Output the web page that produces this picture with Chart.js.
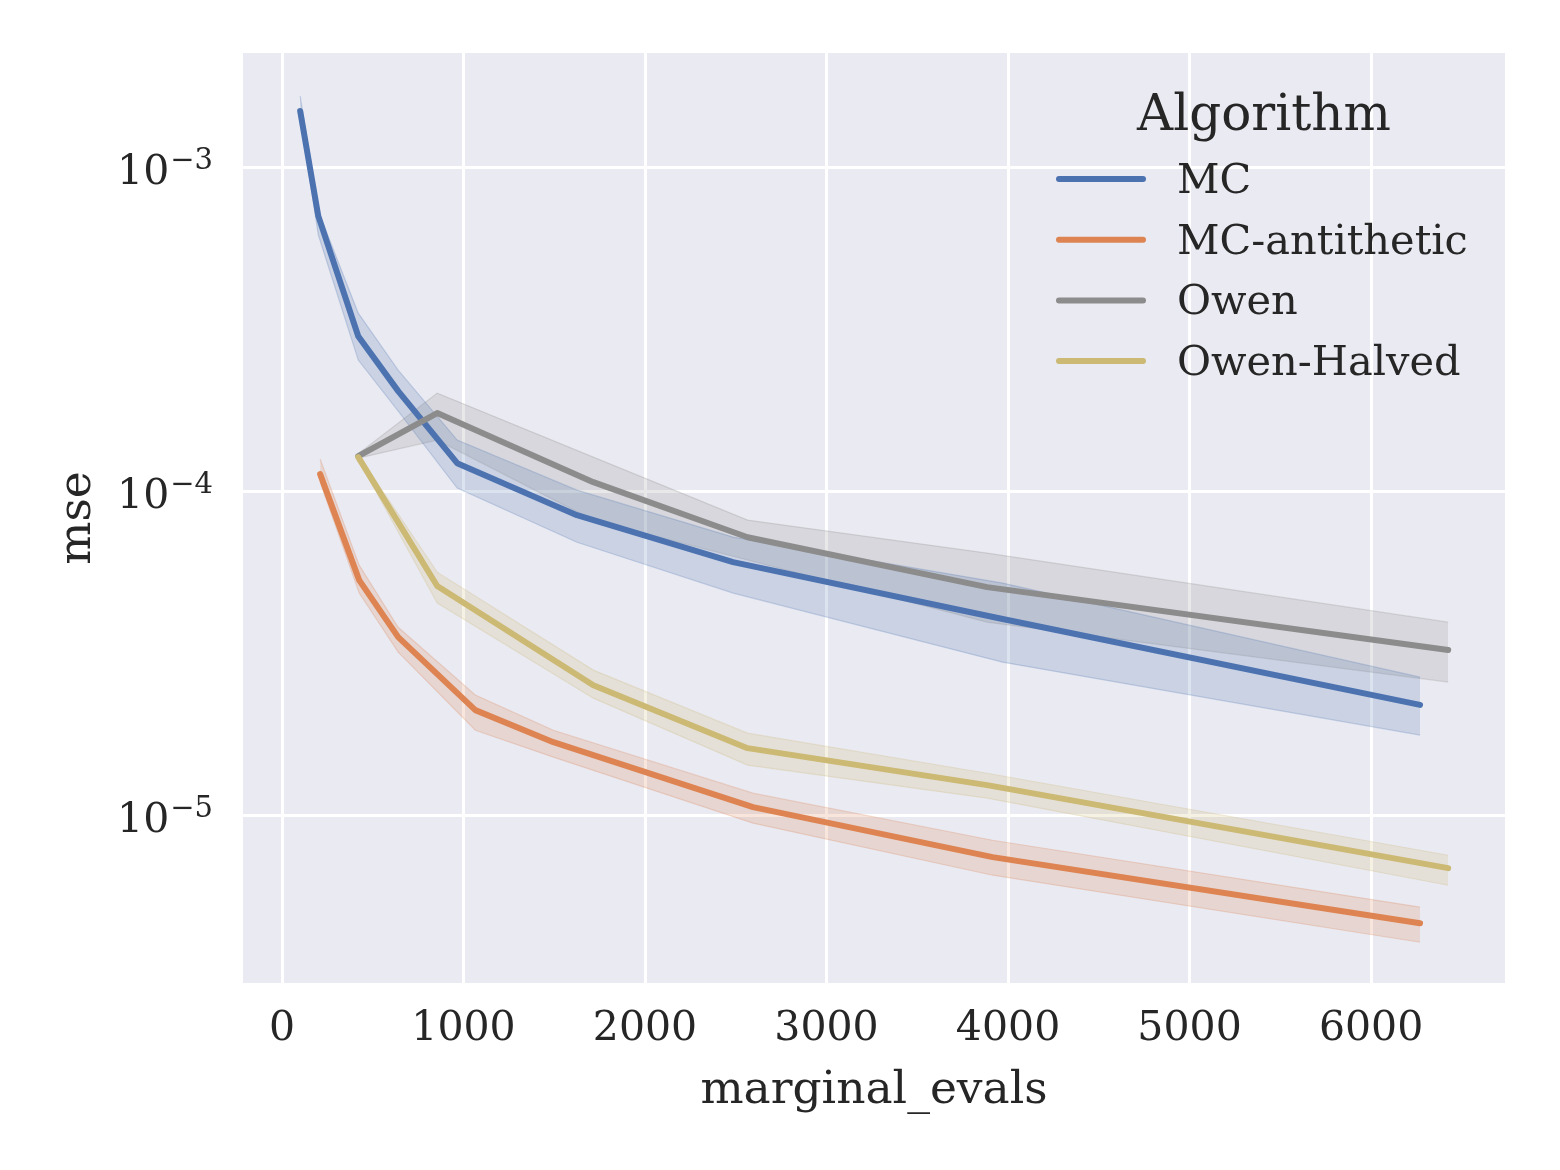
<!DOCTYPE html>
<html>
<head>
<meta charset="utf-8">
<script src="https://cdn.jsdelivr.net/npm/chart.js@4.4.1/dist/chart.umd.min.js"></script>
<style>
  html, body { margin: 0; background: #fff; }
  #wrap { width: 1560px; height: 1170px; }
</style>
</head>
<body>
<div id="wrap"><canvas id="mseChart"></canvas></div>
<script>
// ------------------------------------------------------------------
// Data (mean mse + confidence band per algorithm)
// ------------------------------------------------------------------
const algorithms = ['MC', 'MC-antithetic', 'Owen', 'Owen-Halved'];
const legendTitle = 'Algorithm';

const mcEvals = [100, 200, 420, 640, 965, 1625, 2485, 3970, 6270];
const mcMse   = [1.496e-3, 7.09e-4, 3.02e-4, 2.045e-4, 1.226e-4, 8.47e-5, 6.07e-5, 4.05e-5, 2.20e-5];
const mcLow   = [1.454e-3, 6.20e-4, 2.55e-4, 1.775e-4, 1.027e-4, 6.99e-5, 4.87e-5, 2.98e-5, 1.775e-5];
const mcHigh  = [1.664e-3, 7.35e-4, 3.56e-4, 2.374e-4, 1.444e-4, 1.012e-4, 7.25e-5, 5.23e-5, 2.68e-5];

const antiEvals = [210, 425, 640, 1065, 1495, 2595, 3915, 6270];
const antiMse   = [1.134e-4, 5.34e-5, 3.56e-5, 2.12e-5, 1.688e-5, 1.064e-5, 7.46e-6, 4.665e-6];
const antiLow   = [1.071e-4, 4.87e-5, 3.20e-5, 1.838e-5, 1.518e-5, 9.495e-6, 6.56e-6, 4.075e-6];
const antiHigh  = [1.262e-4, 5.94e-5, 3.82e-5, 2.36e-5, 1.838e-5, 1.175e-5, 8.41e-6, 5.23e-6];

const owenEvals = [420, 855, 1715, 2565, 3885, 6425];
const owenMse   = [1.289e-4, 1.750e-4, 1.071e-4, 7.24e-5, 5.08e-5, 3.25e-5];
const owenLow   = [1.27e-4, 1.444e-4, 8.18e-5, 6.16e-5, 3.96e-5, 2.587e-5];
const owenHigh  = [1.31e-4, 2.017e-4, 1.280e-4, 8.18e-5, 6.47e-5, 3.96e-5];

const halvedEvals = [420, 855, 1715, 2565, 3885, 6425];
const halvedMse   = [1.280e-4, 5.12e-5, 2.531e-5, 1.618e-5, 1.244e-5, 6.90e-6];
const halvedLow   = [1.26e-4, 4.535e-5, 2.308e-5, 1.434e-5, 1.134e-5, 6.11e-6];
const halvedHigh  = [1.30e-4, 5.65e-5, 2.817e-5, 1.800e-5, 1.354e-5, 7.56e-6];

const xTicks = [0, 1000, 2000, 3000, 4000, 5000, 6000];
const yTicks = [1e-5, 1e-4, 1e-3];
const yTickExponents = ['−5', '−4', '−3'];

// ------------------------------------------------------------------
// Styling
// ------------------------------------------------------------------
const colors = ['#4C72B0', '#DD8452', '#8C8C8C', '#CCB974'];
const bandFill = ['rgba(76,114,176,0.2)', 'rgba(221,132,82,0.2)', 'rgba(140,140,140,0.2)', 'rgba(204,185,116,0.2)'];
const bandEdge = ['rgba(76,114,176,0.25)', 'rgba(221,132,82,0.25)', 'rgba(140,140,140,0.25)', 'rgba(204,185,116,0.25)'];
const textColor = '#262626';
const serif = '"DejaVu Serif", serif';

const series = [
  { evals: mcEvals, mse: mcMse, low: mcLow, high: mcHigh },
  { evals: antiEvals, mse: antiMse, low: antiLow, high: antiHigh },
  { evals: owenEvals, mse: owenMse, low: owenLow, high: owenHigh },
  { evals: halvedEvals, mse: halvedMse, low: halvedLow, high: halvedHigh },
];

const toPoints = (xs, ys) => xs.map((x, i) => ({ x, y: ys[i] }));

const datasets = [];
series.forEach((s, i) => {
  datasets.push({
    label: algorithms[i] + ' low',
    data: toPoints(s.evals, s.low),
    borderColor: bandEdge[i], borderWidth: 1.2,
    fill: false, order: 10,
  });
  datasets.push({
    label: algorithms[i] + ' high',
    data: toPoints(s.evals, s.high),
    borderColor: bandEdge[i], borderWidth: 1.2,
    backgroundColor: bandFill[i],
    fill: '-1', order: 10,
  });
});
series.forEach((s, i) => {
  datasets.push({
    label: algorithms[i],
    data: toPoints(s.evals, s.mse),
    borderColor: colors[i],
    borderWidth: 6,
    borderCapStyle: 'round',
    borderJoinStyle: 'round',
    fill: false,
    order: 4 - i,
  });
});

// plot background (seaborn darkgrid)
const backgroundPlugin = {
  id: 'darkgridBg',
  beforeDraw(chart) {
    const { ctx, chartArea: a } = chart;
    ctx.save();
    ctx.fillStyle = '#fff';
    ctx.fillRect(0, 0, chart.width, chart.height);
    ctx.fillStyle = '#EAEAF2';
    ctx.fillRect(a.left, a.top, a.right - a.left, a.bottom - a.top);
    ctx.restore();
  },
};

// log tick labels as 10 with a raised exponent
const powerLabelsPlugin = {
  id: 'powerLabels',
  afterDraw(chart) {
    const { ctx, scales: { y } } = chart;
    const rightEdge = 213;
    ctx.save();
    ctx.fillStyle = textColor;
    ctx.textBaseline = 'alphabetic';
    yTicks.forEach((v, i) => {
      const py = y.getPixelForValue(v);
      ctx.font = '29px ' + serif;
      const w = ctx.measureText(yTickExponents[i]).width;
      ctx.textAlign = 'left';
      ctx.fillText(yTickExponents[i], rightEdge - w, py + 1);
      ctx.font = '41px ' + serif;
      ctx.textAlign = 'right';
      ctx.fillText('10', rightEdge - w - 1, py + 16);
    });
    ctx.restore();
  },
};

// frameless legend inside the plot, like seaborn's
const legendPlugin = {
  id: 'algoLegend',
  afterDraw(chart) {
    const ctx = chart.ctx;
    ctx.save();
    ctx.fillStyle = textColor;
    ctx.font = '50px ' + serif;
    ctx.textAlign = 'center';
    ctx.textBaseline = 'alphabetic';
    ctx.fillText(legendTitle, 1264, 130);
    ctx.font = '41.5px ' + serif;
    ctx.textAlign = 'left';
    algorithms.forEach((name, i) => {
      const y = 179 + i * 60.7;
      ctx.strokeStyle = colors[i];
      ctx.lineWidth = 6;
      ctx.lineCap = 'round';
      ctx.beginPath();
      ctx.moveTo(1059, y);
      ctx.lineTo(1143, y);
      ctx.stroke();
      ctx.fillText(name, 1177, y + 14);
    });
    ctx.restore();
  },
};

new Chart(document.getElementById('mseChart'), {
  type: 'line',
  data: { datasets },
  options: {
    responsive: true,
    maintainAspectRatio: false,
    animation: false,
    devicePixelRatio: 1,
    layout: { padding: { left: 0, right: 55, top: 53, bottom: 0 } },
    elements: { point: { radius: 0 }, line: { tension: 0 } },
    plugins: {
      legend: { display: false },
      tooltip: { enabled: false },
      filler: { drawTime: 'beforeDatasetsDraw' },
    },
    scales: {
      x: {
        type: 'linear',
        min: -215,
        max: 6738,
        grid: { color: '#fff', lineWidth: 3, drawTicks: false },
        border: { display: false },
        afterBuildTicks: (scale) => { scale.ticks = xTicks.map(v => ({ value: v })); },
        afterFit: (scale) => { scale.height = 187; },
        ticks: {
          color: textColor,
          font: { family: serif, size: 41 },
          padding: 22,
          maxRotation: 0,
          callback: (v) => String(v),
        },
        title: {
          display: true,
          text: 'marginal_evals',
          color: textColor,
          font: { family: serif, size: 45.5 },
          padding: { top: 0, bottom: 52 },
        },
      },
      y: {
        type: 'logarithmic',
        min: 3.05e-6,
        max: 2.26e-3,
        grid: { color: '#fff', lineWidth: 3, drawTicks: false },
        border: { display: false },
        afterBuildTicks: (scale) => { scale.ticks = yTicks.map(v => ({ value: v })); },
        afterFit: (scale) => { scale.width = 243; },
        ticks: { display: false },
        title: {
          display: true,
          text: 'mse',
          color: textColor,
          font: { family: serif, size: 45.5 },
          padding: { top: 51, bottom: 0 },
        },
      },
    },
  },
  plugins: [backgroundPlugin, powerLabelsPlugin, legendPlugin],
});
</script>
</body>
</html>
